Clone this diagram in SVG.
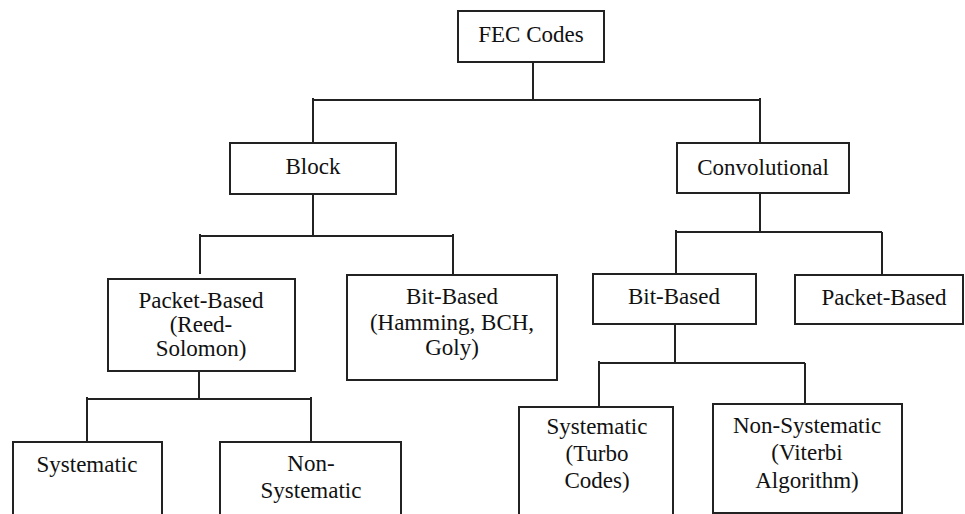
<svg xmlns="http://www.w3.org/2000/svg" width="965" height="514" viewBox="0 0 965 514">
  <style>
    .box { fill: #ffffff; stroke: #222222; stroke-width: 2; }
    .link { fill: none; stroke: #222222; stroke-width: 2; }
    .label { font-family: "Liberation Serif", "DejaVu Serif", serif; font-size: 23px; fill: #111111; text-anchor: middle; }
  </style>
  <rect width="965" height="514" fill="#ffffff"/>

  <!-- tree connectors: one elbow bracket per parent -->
  <g id="connectors">
    <path class="link" d="M533 62 V100 M313 100 H760 M313 98 V143 M760 98 V143"/>
    <path class="link" d="M313 194 V236 M200 236 H453 M200 234 V274 M453 234 V275"/>
    <path class="link" d="M760 193 V232 M676 232 H882 M676 230 V274 M882 232 V275"/>
    <path class="link" d="M199 371 V399 M87 399 H311 M87 397 V442 M311 397 V442"/>
    <path class="link" d="M675 324 V363 M599 363 H805 M599 361 V407 M805 363 V404"/>
  </g>

  <g id="fec-codes">
    <rect class="box" x="458" y="11" width="146" height="51"/>
    <text class="label" x="531" y="42">FEC Codes</text>
  </g>

  <g id="block">
    <rect class="box" x="230" y="143" width="166" height="51"/>
    <text class="label" x="313" y="174">Block</text>
  </g>

  <g id="convolutional">
    <rect class="box" x="677" y="143" width="172" height="50"/>
    <text class="label" x="763" y="175">Convolutional</text>
  </g>

  <g id="block-packet-based">
    <rect class="box" x="108" y="279" width="187" height="92"/>
    <text class="label" x="201" y="308">Packet-Based</text>
    <text class="label" x="201" y="332">(Reed-</text>
    <text class="label" x="201" y="356">Solomon)</text>
  </g>

  <g id="block-bit-based">
    <rect class="box" x="347" y="275" width="210" height="105"/>
    <text class="label" x="452" y="304">Bit-Based</text>
    <text class="label" x="452" y="330">(Hamming, BCH,</text>
    <text class="label" x="452" y="355">Goly)</text>
  </g>

  <g id="conv-bit-based">
    <rect class="box" x="593" y="274" width="163" height="50"/>
    <text class="label" x="674" y="304">Bit-Based</text>
  </g>

  <g id="conv-packet-based">
    <rect class="box" x="795" y="275" width="168" height="49"/>
    <text class="label" x="884" y="305">Packet-Based</text>
  </g>

  <g id="block-systematic">
    <rect class="box" x="13" y="442" width="149" height="90"/>
    <text class="label" x="87" y="472">Systematic</text>
  </g>

  <g id="block-non-systematic">
    <rect class="box" x="220" y="442" width="181" height="90"/>
    <text class="label" x="311" y="471">Non-</text>
    <text class="label" x="311" y="498">Systematic</text>
  </g>

  <g id="conv-systematic">
    <rect class="box" x="519" y="407" width="154" height="125"/>
    <text class="label" x="597" y="434">Systematic</text>
    <text class="label" x="597" y="461">(Turbo</text>
    <text class="label" x="597" y="488">Codes)</text>
  </g>

  <g id="conv-non-systematic">
    <rect class="box" x="713" y="404" width="189" height="109"/>
    <text class="label" x="807" y="433">Non-Systematic</text>
    <text class="label" x="807" y="460">(Viterbi</text>
    <text class="label" x="807" y="488">Algorithm)</text>
  </g>
</svg>
